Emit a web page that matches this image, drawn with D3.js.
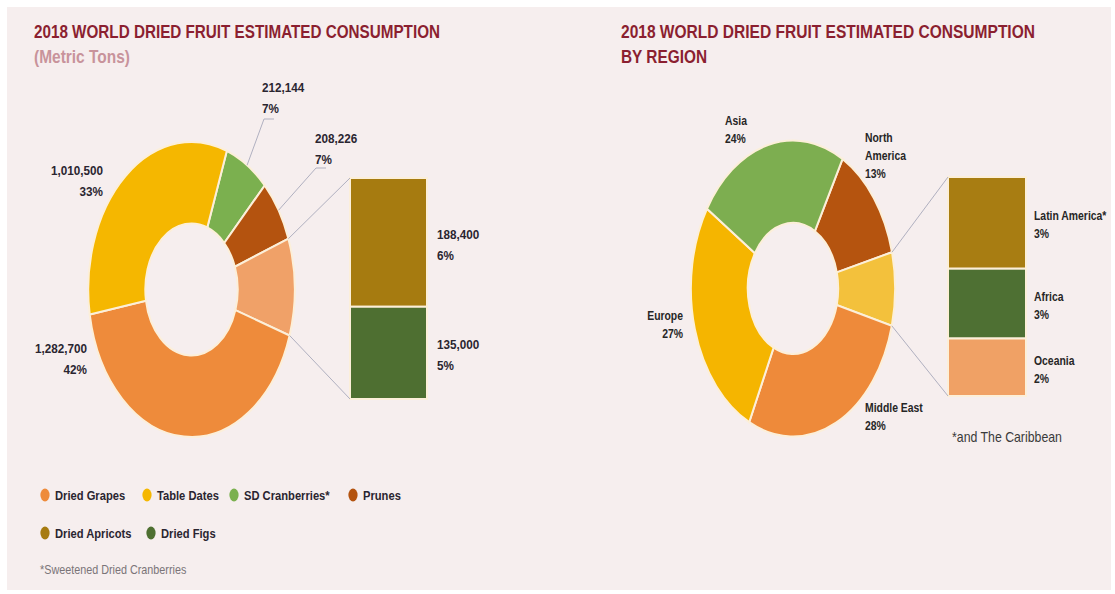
<!DOCTYPE html>
<html>
<head>
<meta charset="utf-8">
<script src="https://cdn.jsdelivr.net/npm/d3@7"></script>
<style>
  html, body { margin: 0; padding: 0; background: #ffffff; }
  svg { display: block; font-family: "Liberation Sans", Arial, sans-serif; }
</style>
</head>
<body>
<svg id="chart" width="1115" height="594"></svg>
<script>
// ---- Consumption by fruit (metric tons) ----
const fruitNames = ["Dried Grapes", "Table Dates", "SD Cranberries*", "Prunes", "Dried Apricots", "Dried Figs"];
const fruitTons = [1282700, 1010500, 212144, 208226, 188400, 135000];
const fruitShareLabels = ["42%", "33%", "7%", "7%", "6%", "5%"];
const fruitColors = ["#ee8b3b", "#f5b700", "#7bb04f", "#b4530f", "#a67b10", "#4e6f31"];
// fruits grouped into the small "other" slice and broken out in the side bar
const fruitBreakout = ["Dried Apricots", "Dried Figs"];
// clockwise order of the ring, starting at the top-right
const fruitRingOrder = ["SD Cranberries*", "Prunes", "other", "Dried Grapes", "Table Dates"];

// ---- Consumption by region (% of world total) ----
const regionNames = ["North America", "Middle East", "Europe", "Asia"];
const regionShares = [13, 28, 27, 24];
const regionColors = ["#b5540f", "#ee8a3a", "#f5b500", "#7dae50"];
const smallRegionNames = ["Latin America*", "Africa", "Oceania"];
const smallRegionShares = [3.35, 2.55, 2.1];
const smallRegionColors = ["#a87d12", "#4e7033", "#f0a165"];
const regionRingOrder = ["North America", "other", "Middle East", "Europe", "Asia"];

const svg = d3.select("#chart");
const fmtTons = d3.format(",");
const deg = Math.PI / 180;

const TITLE_RED = "#8b1f30";
const INK = "#2a2530";
const SEAM = "#fcefd9";
const LEADER = "#b0b0c0";

// panel background
svg.append("rect").attr("x", 7).attr("y", 7).attr("width", 1104).attr("height", 583).attr("fill", "#f6eeee");

// text squeezed horizontally by k to get a narrow face
function ntext(x, y, lines, o = {}) {
  const k = o.k || 0.85;
  const t = svg.append("text")
    .attr("transform", `translate(${x},${y}) scale(${k},1)`)
    .attr("text-anchor", o.anchor || "start")
    .attr("font-size", o.size || 13)
    .attr("font-weight", o.weight || 700)
    .attr("fill", o.color || INK);
  [].concat(lines).forEach((s, i) => {
    t.append("tspan").attr("x", 0).attr("dy", i === 0 ? "0.35em" : (o.lead || 20)).text(s);
  });
  return t;
}

// ---- titles ----
function title(x, y, text, color, len) {
  return svg.append("text").attr("x", x).attr("y", y)
    .attr("fill", color).attr("font-weight", 700).attr("font-size", 18)
    .attr("textLength", len).attr("lengthAdjust", "spacingAndGlyphs")
    .text(text);
}
title(34, 38, "2018 WORLD DRIED FRUIT ESTIMATED CONSUMPTION", TITLE_RED, 406);
title(34, 63, "(Metric Tons)", "#c8939b", 96);
title(621, 38, "2018 WORLD DRIED FRUIT ESTIMATED CONSUMPTION", TITLE_RED, 414);
title(621, 63, "BY REGION", TITLE_RED, 86);

// ---- shared helpers ----
function drawRing(items, o) {
  const pie = d3.pie().sort(null).value(d => d.value)
    .startAngle(o.start).endAngle(o.start + 2 * Math.PI);
  const arcs = pie(items);
  const arc = d3.arc().innerRadius(o.r0).outerRadius(o.r);
  const g = svg.append("g").attr("transform", `translate(${o.cx},${o.cy}) scale(${o.sx},1)`);
  g.selectAll("path").data(arcs).join("path")
    .attr("d", arc)
    .attr("fill", d => d.data.color)
    .attr("stroke", SEAM).attr("stroke-width", 2)
    .attr("vector-effect", "non-scaling-stroke");
  const pt = (a, rad = o.r) => [o.cx + o.sx * rad * Math.sin(a), o.cy - rad * Math.cos(a)];
  return { arcs, pt };
}

function drawStack(items, o) {
  const total = d3.sum(items, d => d.value);
  const y = d3.scaleLinear().domain([0, total]).range([o.top, o.bottom]);
  let acc = 0;
  const rows = items.map(d => { const r = { ...d, y0: acc, y1: acc + d.value }; acc += d.value; return r; });
  svg.append("g").selectAll("rect").data(rows).join("rect")
    .attr("x", o.x).attr("width", o.w)
    .attr("y", d => y(d.y0)).attr("height", d => y(d.y1) - y(d.y0))
    .attr("fill", d => d.color)
    .attr("stroke", SEAM).attr("stroke-width", 2);
  return { y, rows };
}

function leader(points) {
  svg.append("path").attr("d", d3.line()(points))
    .attr("fill", "none").attr("stroke", LEADER).attr("stroke-width", 1);
}

// ---- fruit ring ----
const fruitItems = fruitNames.map((n, i) => ({ name: n, value: fruitTons[i], share: fruitShareLabels[i], color: fruitColors[i] }));
const fruitSmall = fruitItems.filter(d => fruitBreakout.includes(d.name));
const fruitRing = fruitRingOrder.map(n => n === "other"
  ? { name: "other", value: d3.sum(fruitSmall, d => d.value), color: "#f0a168" }
  : fruitItems.find(d => d.name === n));

const ringA = drawRing(fruitRing, { cx: 191.5, cy: 289.5, r: 147.5, r0: 66, sx: 0.70, start: 20 * deg });
const barA = { x: 350, w: 77, top: 178, bottom: 399 };
drawStack(fruitSmall, barA);

const otherA = ringA.arcs.find(a => a.data.name === "other");
leader([ringA.pt(otherA.startAngle), [barA.x, barA.top]]);
leader([ringA.pt(otherA.endAngle), [barA.x, barA.bottom]]);

const arcOf = (ring, name) => ring.arcs.find(a => a.data.name === name);
const mid = a => (a.startAngle + a.endAngle) / 2;

const cran = arcOf(ringA, "SD Cranberries*");
leader([ringA.pt(mid(cran)), [264, 119], [274, 119]]);
const prun = arcOf(ringA, "Prunes");
leader([ringA.pt(mid(prun)), [316, 168], [326, 168]]);

const fruitLabelPos = {
  "Table Dates": [103, 170, "end"],
  "Dried Grapes": [87, 348, "end"],
  "SD Cranberries*": [262, 87, "start"],
  "Prunes": [315, 138, "start"],
  "Dried Apricots": [437, 234, "start"],
  "Dried Figs": [437, 344, "start"]
};
fruitItems.forEach(d => {
  const [x, y, anchor] = fruitLabelPos[d.name];
  ntext(x, y, [fmtTons(d.value), d.share], { anchor, size: 13, lead: 21, k: 0.9 });
});

// ---- fruit legend ----
const legendPos = [[45, 495], [147, 495], [234, 495], [353, 495], [45, 533], [151, 533]];
legendPos.forEach((p, i) => {
  const d = fruitItems[i];
  svg.append("ellipse").attr("cx", p[0]).attr("cy", p[1])
    .attr("rx", 4.6).attr("ry", 6.5).attr("fill", d.color);
  ntext(p[0] + 10, p[1], d.name, { size: 13, k: 0.86 });
});

ntext(40, 570, "*Sweetened Dried Cranberries", { size: 12, weight: 400, color: "#7a7478", k: 0.9 });

// ---- region ring ----
const regionItems = regionNames.map((n, i) => ({ name: n, value: regionShares[i], color: regionColors[i] }));
const smallRegions = smallRegionNames.map((n, i) => ({ name: n, value: smallRegionShares[i], color: smallRegionColors[i] }));
const regionRing = regionRingOrder.map(n => n === "other"
  ? { name: "other", value: d3.sum(smallRegions, d => d.value), color: "#f3c13c" }
  : regionItems.find(d => d.name === n));

const ringB = drawRing(regionRing, { cx: 793, cy: 288.5, r: 148, r0: 65.5, sx: 0.69, start: 29 * deg });
const barB = { x: 948, w: 78, top: 177, bottom: 396 };
drawStack(smallRegions, barB);

const otherB = ringB.arcs.find(a => a.data.name === "other");
leader([ringB.pt(otherB.startAngle), [barB.x, barB.top]]);
leader([ringB.pt(otherB.endAngle), [barB.x, barB.bottom]]);

const pct = v => Math.round(v) + "%";
const regionLabelPos = {
  "Asia": [725, 120, "start", ["Asia"]],
  "North America": [865, 137, "start", ["North", "America"]],
  "Europe": [683, 315, "end", ["Europe"]],
  "Middle East": [865, 407, "start", ["Middle East"]],
  "Latin America*": [1034, 215, "start", ["Latin America*"]],
  "Africa": [1034, 296, "start", ["Africa"]],
  "Oceania": [1034, 360, "start", ["Oceania"]]
};
regionItems.concat(smallRegions).forEach(d => {
  const [x, y, anchor, lines] = regionLabelPos[d.name];
  ntext(x, y, lines.concat([pct(d.value)]), { anchor, size: 13, lead: 18, color: "#262626", k: 0.8 });
});

ntext(952, 437, "*and The Caribbean", { size: 14, weight: 400, color: "#3a3a3a", k: 0.88 });
</script>
</body>
</html>
